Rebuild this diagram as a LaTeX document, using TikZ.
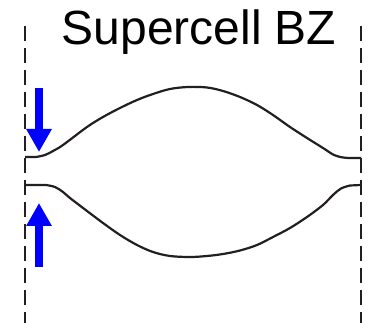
\documentclass[tikz,border=0pt]{standalone}
\usepackage{fontspec}
\setmainfont{Liberation Sans}
\usetikzlibrary{arrows.meta}
\definecolor{ink}{HTML}{231F20}
\tikzset{
  zoneedge/.style={draw=ink, line width=2pt, dash pattern=on 15pt off 7pt},
  band/.style={draw=ink, line width=2.2pt, line join=round},
  gaparrow/.style={draw=blue, line width=8pt, -{Triangle[length=23pt,width=24pt]}},
}
\begin{document}
\begin{tikzpicture}[x=1pt,y=-1pt]
  \useasboundingbox (0,0) rectangle (375,323);
  % zone boundaries
  \coordinate (lt) at (25,26);  \coordinate (lb) at (25,323);
  \coordinate (rt) at (361,26); \coordinate (rb) at (361,323);
  \draw[zoneedge] (lt) -- (lb);
  \draw[zoneedge] (rt) -- (rb);
  % title
  \node[anchor=base, inner sep=0pt, font=\fontsize{48}{56}\selectfont] (title) at (199,45) {Supercell BZ};
  % upper band
  \draw[band] (25,157) -- (36,157)
    plot[smooth, tension=0.55] coordinates {(36,157) (45,155) (53,151) (63,145) (87,127)
      (103,117) (120,108) (137,100) (153,94) (170,89) (188,87) (207,87.5) (223,91)
      (240,97) (257,105) (273,115) (290,127) (307,138) (323,148) (334,155) (343,157.5) (350,158)}
    -- (361,158);
  % lower band
  \draw[band] (25,185) -- (46,185)
    plot[smooth, tension=0.55] coordinates {(46,185) (55,187) (63,192) (70,198) (87,211)
      (103,223) (120,235) (137,245) (153,252) (170,256) (190,257) (207,256) (223,254)
      (240,250.5) (257,245) (273,237) (290,228) (307,217) (323,205) (333,195)
      (341,188.5) (350,185.5)}
    -- (361,185);
  % gap arrows
  \coordinate (d0) at (39,88);  \coordinate (d1) at (39,152);
  \coordinate (u0) at (39,267); \coordinate (u1) at (39,203);
  \draw[gaparrow] (d0) -- (d1);
  \draw[gaparrow] (u0) -- (u1);
\end{tikzpicture}
\end{document}
